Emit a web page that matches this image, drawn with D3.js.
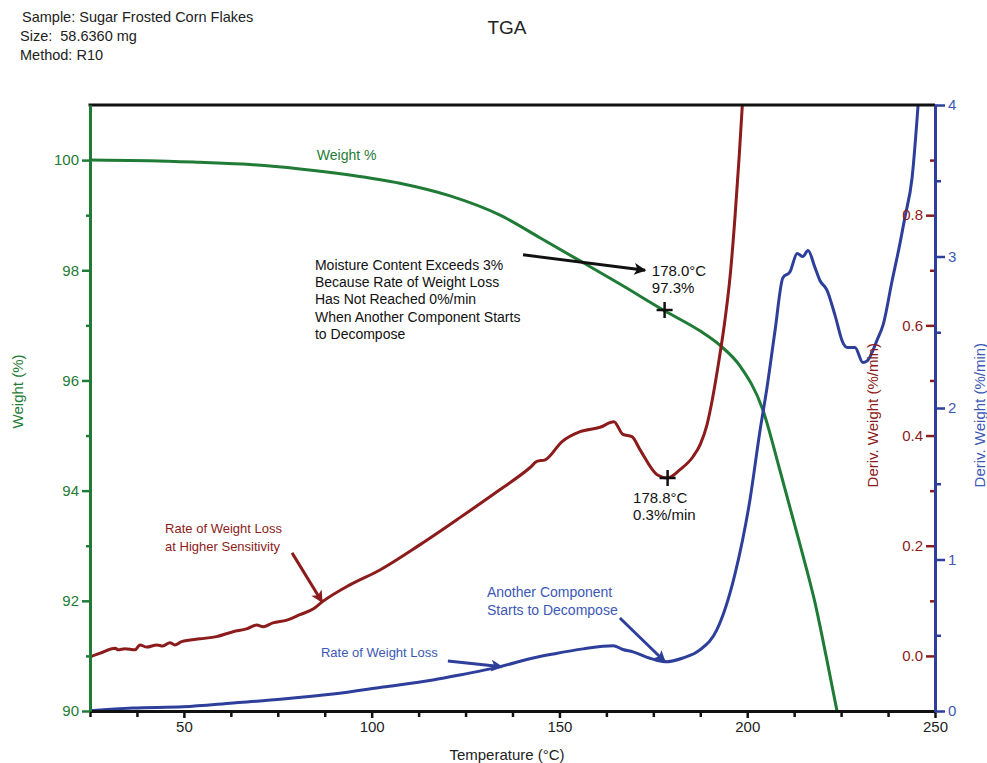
<!DOCTYPE html>
<html lang="en">
<head>
  <meta charset="UTF-8" />
  <title>TGA – Sugar Frosted Corn Flakes</title>
  <script src="https://d3js.org/d3.v7.min.js"></script>
  <style>
    body {
      margin: 0;
      background: #fff;
      font-family: "Liberation Sans", Arial, sans-serif;
    }
    svg text {
      font-family: "Liberation Sans", Arial, sans-serif;
    }
  </style>
</head>
<body>
  <svg width="987" height="763"></svg>

  <script>
    // ---- data ----
    // Weight (%) vs temperature (°C)
    const weightTemp = [25, 41, 54.3, 67.6, 80.9, 94.2, 107.5, 120.9, 134.2, 144.8, 155.5, 166.1, 178.1, 187.4, 192.7, 198.1, 204.2, 208.7, 214.1, 218.0, 221.0, 223.9];
    const weightVal  = [100.0, 99.99, 99.96, 99.92, 99.84, 99.73, 99.58, 99.35, 99.00, 98.59, 98.17, 97.75, 97.26, 96.90, 96.64, 96.26, 95.46, 94.37, 93.01, 91.98, 91.0, 90.0];

    // Deriv. weight at higher sensitivity (%/min, red axis)
    const redTemp = [25, 27.7, 31.7, 32.5, 34.3, 37, 38.3, 40.1, 42.8, 44.4, 46.3, 47.6, 49.4, 54.3, 58.7, 63.1, 66.7, 69.4, 71.1, 73.7, 77.4, 80.9, 84.4, 87.0, 94.2, 102.2, 112.9, 123.5, 134.2, 142.2, 144.0, 146.2, 150.7, 155.5, 160.8, 164.5, 166.9, 169.3, 171.4, 176.0, 178.8, 182.1, 185.6, 187.5, 189.3, 190.7, 192.3, 194.1, 195.5, 196.8, 197.9, 198.7];
    const redVal  = [-0.002, 0.005, 0.014, 0.011, 0.013, 0.011, 0.020, 0.016, 0.020, 0.018, 0.024, 0.020, 0.026, 0.031, 0.035, 0.044, 0.049, 0.056, 0.053, 0.060, 0.065, 0.075, 0.085, 0.099, 0.129, 0.156, 0.202, 0.251, 0.302, 0.342, 0.353, 0.356, 0.389, 0.407, 0.415, 0.425, 0.402, 0.398, 0.375, 0.329, 0.323, 0.338, 0.362, 0.384, 0.420, 0.465, 0.529, 0.611, 0.693, 0.802, 0.911, 1.0];

    // Deriv. weight (%/min, blue axis)
    const blueTemp = [25, 36.4, 49.8, 63.1, 76.4, 89.7, 103, 116.3, 123.5, 129.6, 134.2, 143, 148.3, 156.3, 164.3, 166.9, 169.6, 174.1, 178.1, 182.9, 187.4, 191.9, 196.7, 200.7, 203.4, 205.3, 207.4, 209.5, 211.4, 213.3, 214.8, 216.2, 218.0, 219.4, 221.2, 223.4, 225.5, 226.6, 228.7, 230.8, 231.9, 234.6, 236.2, 238.5, 240.7, 242.0, 243.9, 245.5];
    const blueVal  = [0.002, 0.02, 0.028, 0.053, 0.079, 0.112, 0.158, 0.205, 0.238, 0.268, 0.293, 0.350, 0.376, 0.41, 0.431, 0.406, 0.39, 0.348, 0.325, 0.35, 0.403, 0.535, 0.90, 1.39, 1.85, 2.14, 2.51, 2.86, 2.90, 3.02, 3.0, 3.04, 2.93, 2.84, 2.78, 2.61, 2.43, 2.40, 2.40, 2.30, 2.31, 2.45, 2.55, 2.83, 3.09, 3.26, 3.52, 4.0];

    // axis ticks
    const tempTicks = [50, 100, 150, 200, 250];
    const tempMinor = [25, 37.5, 62.5, 75, 87.5, 112.5, 125, 137.5, 162.5, 175, 187.5, 212.5, 225, 237.5];
    const weightTicks = [90, 92, 94, 96, 98, 100];
    const weightMinor = [91, 93, 95, 97, 99];
    const redTicks = [0.0, 0.2, 0.4, 0.6, 0.8];
    const redMinor = [0.1, 0.3, 0.5, 0.7, 0.9];
    const blueTicks = [0, 1, 2, 3, 4];
    const blueMinor = [0.5, 1.5, 2.5, 3.5];

    const headerLines = ["Sample: Sugar Frosted Corn Flakes", "Size:\u00a0\u00a058.6360 mg", "Method: R10"];
    const moistureLines = ["Moisture Content Exceeds 3%", "Because Rate of Weight Loss", "Has Not Reached 0%/min", "When Another Component Starts", "to Decompose"];

    const green = "#1f7b36", red = "#8c1b1b", blue = "#2d3f9b", blueText = "#3b58b5";

    // ---- layout ----
    const svg = d3.select("svg");
    const plotLeft = 90, plotRight = 935, plotTop = 105, plotBottom = 711;

    const x = d3.scaleLinear().domain([25, 250]).range([plotLeft, plotRight]);
    const yW = d3.scaleLinear().domain([90, 101]).range([plotBottom, plotTop]);
    const yR = d3.scaleLinear().domain([-0.1, 1.0]).range([plotBottom, plotTop]);
    const yB = d3.scaleLinear().domain([0, 4]).range([plotBottom, plotTop]);

    const defs = svg.append("defs");
    defs.append("clipPath").attr("id", "plot")
      .append("rect").attr("x", plotLeft).attr("y", plotTop)
      .attr("width", plotRight - plotLeft).attr("height", plotBottom - plotTop);

    // header
    svg.append("g").selectAll("text").data(headerLines).join("text")
      .attr("x", (d, i) => i === 0 ? 22 : 20)
      .attr("y", (d, i) => 22 + i * 19)
      .attr("font-size", 14.5)
      .attr("fill", "#222")
      .text(d => d);

    svg.append("text").attr("x", 507).attr("y", 34).attr("text-anchor", "middle")
      .attr("font-size", 19).attr("fill", "#222").text("TGA");

    // curves
    const plot = svg.append("g").attr("clip-path", "url(#plot)");

    function drawCurve(temps, vals, yScale, color) {
      const pts = temps.map((t, i) => [t, vals[i]]);
      plot.append("path")
        .datum(pts)
        .attr("fill", "none")
        .attr("stroke", color)
        .attr("stroke-width", 3)
        .attr("stroke-linejoin", "round")
        .attr("d", d3.line().x(d => x(d[0])).y(d => yScale(d[1])).curve(d3.curveMonotoneX));
    }
    drawCurve(weightTemp, weightVal, yW, green);
    drawCurve(redTemp, redVal, yR, red);
    drawCurve(blueTemp, blueVal, yB, blue);

    // axes
    function styleAxis(g, color, width) {
      g.selectAll("path.domain").attr("stroke", color).attr("stroke-width", width);
      g.selectAll(".tick line").attr("stroke", color).attr("stroke-width", 2.5);
      g.selectAll(".tick text").attr("fill", color).attr("font-size", 15)
        .attr("font-family", "Liberation Sans, Arial, sans-serif");
    }

    // top frame line
    svg.append("line").attr("x1", plotLeft - 1.5).attr("x2", plotRight).attr("y1", plotTop).attr("y2", plotTop)
      .attr("stroke", "#111").attr("stroke-width", 3);

    const xMinor = svg.append("g").attr("transform", `translate(0,${plotBottom})`)
      .call(d3.axisBottom(x).tickValues(tempMinor).tickSize(6).tickSizeOuter(0).tickFormat(""));
    styleAxis(xMinor, "#111", 3);
    const xAxis = svg.append("g").attr("transform", `translate(0,${plotBottom})`)
      .call(d3.axisBottom(x).tickValues(tempTicks).tickSize(7).tickPadding(3).tickSizeOuter(0));
    styleAxis(xAxis, "#111", 3);
    xAxis.selectAll(".tick text").attr("fill", "#222");

    const wMinor = svg.append("g").attr("transform", `translate(${plotLeft},0)`)
      .call(d3.axisLeft(yW).tickValues(weightMinor).tickSize(4).tickSizeOuter(0).tickFormat(""));
    styleAxis(wMinor, green, 3);
    const wAxis = svg.append("g").attr("transform", `translate(${plotLeft},0)`)
      .call(d3.axisLeft(yW).tickValues(weightTicks).tickSize(8).tickPadding(3).tickSizeOuter(0));
    styleAxis(wAxis, green, 3);

    const rMinor = svg.append("g").attr("transform", `translate(${plotRight - 1},0)`)
      .call(d3.axisLeft(yR).tickValues(redMinor).tickSize(4).tickFormat(""));
    styleAxis(rMinor, red, 0);
    const rAxis = svg.append("g").attr("transform", `translate(${plotRight - 1},0)`)
      .call(d3.axisLeft(yR).tickValues(redTicks).tickSize(8).tickPadding(3).tickFormat(d3.format(".1f")));
    styleAxis(rAxis, red, 0);
    rMinor.select("path.domain").remove();
    rAxis.select("path.domain").remove();

    const bMinor = svg.append("g").attr("transform", `translate(${plotRight},0)`)
      .call(d3.axisRight(yB).tickValues(blueMinor).tickSize(6).tickSizeOuter(0).tickFormat(""));
    styleAxis(bMinor, blue, 3);
    const bAxis = svg.append("g").attr("transform", `translate(${plotRight},0)`)
      .call(d3.axisRight(yB).tickValues(blueTicks).tickSize(10).tickPadding(3).tickSizeOuter(0).tickFormat(d3.format("d")));
    styleAxis(bAxis, blue, 3);
    bAxis.selectAll(".tick text").attr("fill", blueText);

    // axis titles
    svg.append("text").attr("x", 507).attr("y", 760).attr("text-anchor", "middle")
      .attr("font-size", 15).attr("fill", "#222").text("Temperature (°C)");
    svg.append("text").attr("transform", `translate(23,${yW(95.8)}) rotate(-90)`).attr("text-anchor", "middle")
      .attr("font-size", 15).attr("fill", green).text("Weight (%)");
    svg.append("text").attr("transform", `translate(878,${yR(0.437)}) rotate(-90)`).attr("text-anchor", "middle")
      .attr("font-size", 15).attr("fill", red).text("Deriv. Weight (%/min)");
    svg.append("text").attr("transform", `translate(985,${yR(0.437)}) rotate(-90)`).attr("text-anchor", "middle")
      .attr("font-size", 15).attr("fill", blueText).text("Deriv. Weight (%/min)");

    // ---- annotations (positions in data units) ----
    [["arrBlack", "#111"], ["arrRed", red], ["arrBlue", blue]].forEach(([id, c]) => {
      defs.append("marker").attr("id", id)
        .attr("viewBox", "0 0 10 10").attr("refX", 9).attr("refY", 5)
        .attr("markerUnits", "userSpaceOnUse").attr("markerWidth", 16).attr("markerHeight", 12)
        .attr("orient", "auto")
        .append("path").attr("d", "M0,0 L10,5 L0,10 L2.5,5 Z").attr("fill", c);
    });

    function arrow(t0, v0, t1, v1, yScale, color, marker) {
      svg.append("line")
        .attr("x1", x(t0)).attr("y1", yScale(v0)).attr("x2", x(t1)).attr("y2", yScale(v1))
        .attr("stroke", color).attr("stroke-width", 3).attr("marker-end", `url(#${marker})`);
    }

    function label(lines, t, v, yScale, color, size, spacing) {
      const txt = svg.append("text").attr("x", x(t)).attr("y", yScale(v))
        .attr("font-size", size).attr("fill", color);
      lines.forEach((l, i) => {
        txt.append("tspan").attr("x", x(t)).attr("dy", i === 0 ? "0.35em" : spacing).text(l);
      });
    }

    function cross(t, v, yScale) {
      const cx = x(t), cy = yScale(v);
      svg.append("path").attr("d", `M${cx - 8},${cy}H${cx + 8}M${cx},${cy - 8}V${cy + 8}`)
        .attr("stroke", "#111").attr("stroke-width", 2.5);
    }

    // weight curve
    label(["Weight %"], 85.4, 100.09, yW, green, 14, 0);
    label(moistureLines, 84.9, 98.10, yW, "#111", 14, 17.3);
    arrow(140.3, 98.28, 172.8, 98.0, yW, "#111", "arrBlack");
    label(["178.0°C", "97.3%"], 174.6, 97.99, yW, "#111", 15, 17);
    cross(178.0, 97.28, yW);

    // red curve
    cross(178.8, 0.323, yR);
    label(["178.8°C", "0.3%/min"], 169.6, 0.287, yR, "#111", 15, 16.5);
    label(["Rate of Weight Loss", "at Higher Sensitivity"], 45, 0.232, yR, red, 13, 18);
    arrow(78.8, 0.187, 86.8, 0.098, yR, red, "arrRed");

    // blue curve
    label(["Another Component", "Starts to Decompose"], 130.7, 0.785, yB, blueText, 14, 18);
    arrow(166.1, 0.614, 178.1, 0.325, yB, blue, "arrBlue");
    label(["Rate of Weight Loss"], 86.5, 0.389, yB, blueText, 13, 0);
    arrow(120.3, 0.33, 134.7, 0.292, yB, blue, "arrBlue");
  </script>
</body>
</html>
